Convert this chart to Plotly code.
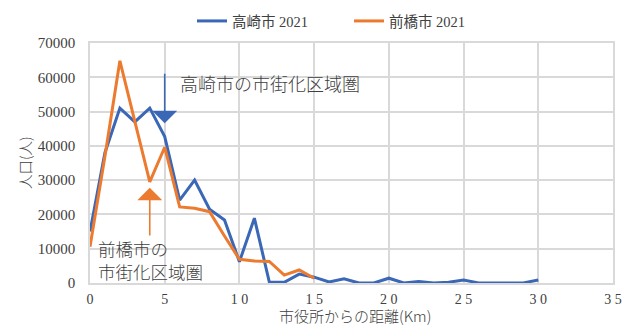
import plotly.graph_objects as go

takasaki_x = list(range(0, 31))
takasaki_y = [15000, 38000, 51000, 47000, 51000, 42700, 24200, 30000, 21500, 18400,
              6200, 18900, 300, 200, 2600, 1700, 300, 1200, 0, 0,
              1400, 0, 400, 0, 200, 900, 0, 0, 0, 0, 900]
maebashi_x = list(range(0, 16))
maebashi_y = [10600, 37000, 64800, 47000, 29500, 39600, 22200, 21800, 20800, 13700,
              6900, 6400, 6300, 2300, 3800, 1400]

series_names = ["高崎市 2021", "前橋市 2021"]
x_tickvals = [0, 5, 10, 15, 20, 25, 30, 35]
x_ticktext = ["0", "5", "1 0", "1 5", "2 0", "2 5", "3 0", "3 5"]
y_tickvals = [0, 10000, 20000, 30000, 40000, 50000, 60000, 70000]

BLUE = "#3A67B6"
ORANGE = "#EC7A2F"
SERIF = "Liberation Serif, Noto Sans CJK JP"
SANS = "Noto Sans CJK JP, Liberation Sans"
TXT = "#404040"

W, H = 631, 325
L, R, T, B = 90, 18, 43, 42
PW, PH = W - L - R, H - T - B


def px_to_paper(px, py):
    return (px - L) / PW, (H - B - py) / PH


fig = go.Figure()
fig.add_trace(go.Scatter(x=takasaki_x, y=takasaki_y, mode="lines", name=series_names[0],
                         line=dict(color=BLUE, width=3)))
fig.add_trace(go.Scatter(x=maebashi_x, y=maebashi_y, mode="lines", name=series_names[1],
                         line=dict(color=ORANGE, width=3)))

lg_x, lg_y = px_to_paper(192, 5)

grid = "#D9D9D9"
fig.update_layout(
    width=W, height=H,
    margin=dict(l=L, r=R, t=T, b=B, autoexpand=False),
    paper_bgcolor="white", plot_bgcolor="white",
    showlegend=True,
    legend=dict(orientation="h", x=lg_x, xanchor="left", y=lg_y, yanchor="top",
                font=dict(family=SERIF, size=14.5, color=TXT),
                itemwidth=30, entrywidth=112, bgcolor="rgba(0,0,0,0)"),
    xaxis=dict(range=[0, 35], tickvals=x_tickvals, ticktext=x_ticktext,
               showgrid=True, gridcolor=grid, gridwidth=1.5, zeroline=False,
               showline=True, linecolor=grid, linewidth=1.5, mirror=True,
               ticks="", ticklabelstandoff=2,
               tickfont=dict(family=SERIF, size=14, color=TXT)),
    yaxis=dict(range=[0, 70000], tickvals=y_tickvals,
               showgrid=True, gridcolor=grid, gridwidth=1.5, zeroline=False,
               showline=True, linecolor=grid, linewidth=1.5, mirror=True,
               ticks="", ticklabelstandoff=10, tickformat="d",
               tickfont=dict(family=SERIF, size=15, color=TXT)),
)

xt_x, xt_y = px_to_paper(355, 315)
yt_x, yt_y = px_to_paper(24, 163)

annotations = [
    dict(x=5, y=46600, ax=5, ay=61500, xref="x", yref="y", axref="x", ayref="y",
         showarrow=True, arrowhead=1, arrowsize=2.6, arrowwidth=1.6, arrowcolor=BLUE, text=""),
    dict(x=4, y=27800, ax=4, ay=13400, xref="x", yref="y", axref="x", ayref="y",
         showarrow=True, arrowhead=1, arrowsize=2.6, arrowwidth=1.6, arrowcolor=ORANGE, text=""),
    dict(x=5.9, y=58200, xref="x", yref="y", text="高崎市の市街化区域圏", showarrow=False,
         xanchor="left", yanchor="middle",
         font=dict(family=SANS, size=18, color=TXT, weight=300)),
    dict(x=0.4, y=6750, xref="x", yref="y", text="前橋市の<br>市街化区域圏", showarrow=False,
         xanchor="left", yanchor="middle", align="left",
         font=dict(family=SANS, size=17.5, color=TXT, weight=300)),
    dict(x=xt_x, y=xt_y, xref="paper", yref="paper", yanchor="middle",
         xanchor="center", text="市役所からの距離(Km)", showarrow=False,
         font=dict(family=SANS, size=15, color=TXT, weight=300)),
    dict(x=yt_x, y=yt_y, xref="paper", yref="paper", xanchor="center",
         yanchor="middle", text="人口(人)", textangle=-90, showarrow=False,
         font=dict(family=SANS, size=14.5, color=TXT, weight=300)),
]
fig.update_layout(annotations=annotations)

fig.write_html("out.html")
